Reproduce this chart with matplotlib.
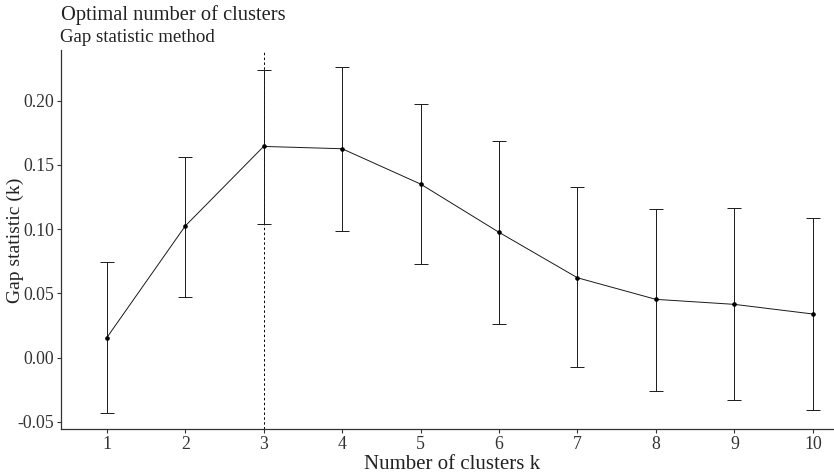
import matplotlib
matplotlib.use("Agg")
import matplotlib.pyplot as plt

# Data
k = [1, 2, 3, 4, 5, 6, 7, 8, 9, 10]
gap = [0.0154, 0.1024, 0.1644, 0.1626, 0.1351, 0.0975, 0.0621, 0.0453, 0.0414, 0.0339]
ymax = [0.0741, 0.1564, 0.2241, 0.2260, 0.1977, 0.1683, 0.1328, 0.1156, 0.1164, 0.1084]
ymin = [-0.0435, 0.0468, 0.1039, 0.0988, 0.0730, 0.0258, -0.0072, -0.0259, -0.0331, -0.0412]
optimal_k = 3
yticks = [-0.05, 0.00, 0.05, 0.10, 0.15, 0.20]
ytick_labels = ["-0.05", "0.00", "0.05", "0.10", "0.15", "0.20"]

W, H = 834, 473
plt.rcParams['font.family'] = ['Liberation Serif', 'DejaVu Serif']
fig = plt.figure(figsize=(W / 100, H / 100), dpi=100)

left, right, top, bottom = 60.7, 834, 50, 429.3
ax = fig.add_axes([left / W, 1 - bottom / H, (right - left) / W, (bottom - top) / H])

err_lo = [g - lo for g, lo in zip(gap, ymin)]
err_hi = [hi - g for g, hi in zip(gap, ymax)]
ax.errorbar(k, gap, yerr=[err_lo, err_hi], fmt='none', ecolor='#1a1a1a',
            elinewidth=0.7, capsize=5.3, capthick=0.7, zorder=2)
ax.plot(k, gap, color='#1a1a1a', lw=0.7, zorder=3)
ax.plot(k, gap, 'o', color='black', markersize=2.3, zorder=4)
ax.axvline(optimal_k, color='black', lw=0.7, linestyle=(0, (2.5, 2.5)), zorder=1)

ax.set_xlim(0.413, 10.27)
ax.set_ylim(-0.0559, 0.2395)
ax.set_xticks(k)
ax.set_xticklabels([str(v) for v in k])
ax.set_yticks(yticks)
ax.set_yticklabels(ytick_labels)

for s in ['top', 'right']:
    ax.spines[s].set_visible(False)
for s in ['left', 'bottom']:
    ax.spines[s].set_color('#333333')
    ax.spines[s].set_linewidth(0.9)
ax.tick_params(axis='both', colors='#333333', length=3, width=0.8, labelsize=12.8,
               labelcolor='#333333')
ax.tick_params(axis='x', pad=2)
ax.tick_params(axis='y', pad=1.5)

fig.text(61 / W, 1 - 20 / H, "Optimal number of clusters", fontsize=14.8,
         ha='left', va='baseline', color='#222222')
fig.text(60 / W, 1 - 42 / H, "Gap statistic method", fontsize=13.6,
         ha='left', va='baseline', color='#222222')
fig.text(452 / W, 1 - 469 / H, "Number of clusters k", fontsize=15,
         ha='center', va='baseline', color='#222222')
fig.text(15 / W, 1 - 240 / H, "Gap statistic (k)", fontsize=14, rotation=90,
         ha='center', va='center', color='#222222')

fig.savefig("out.png", dpi=100)
